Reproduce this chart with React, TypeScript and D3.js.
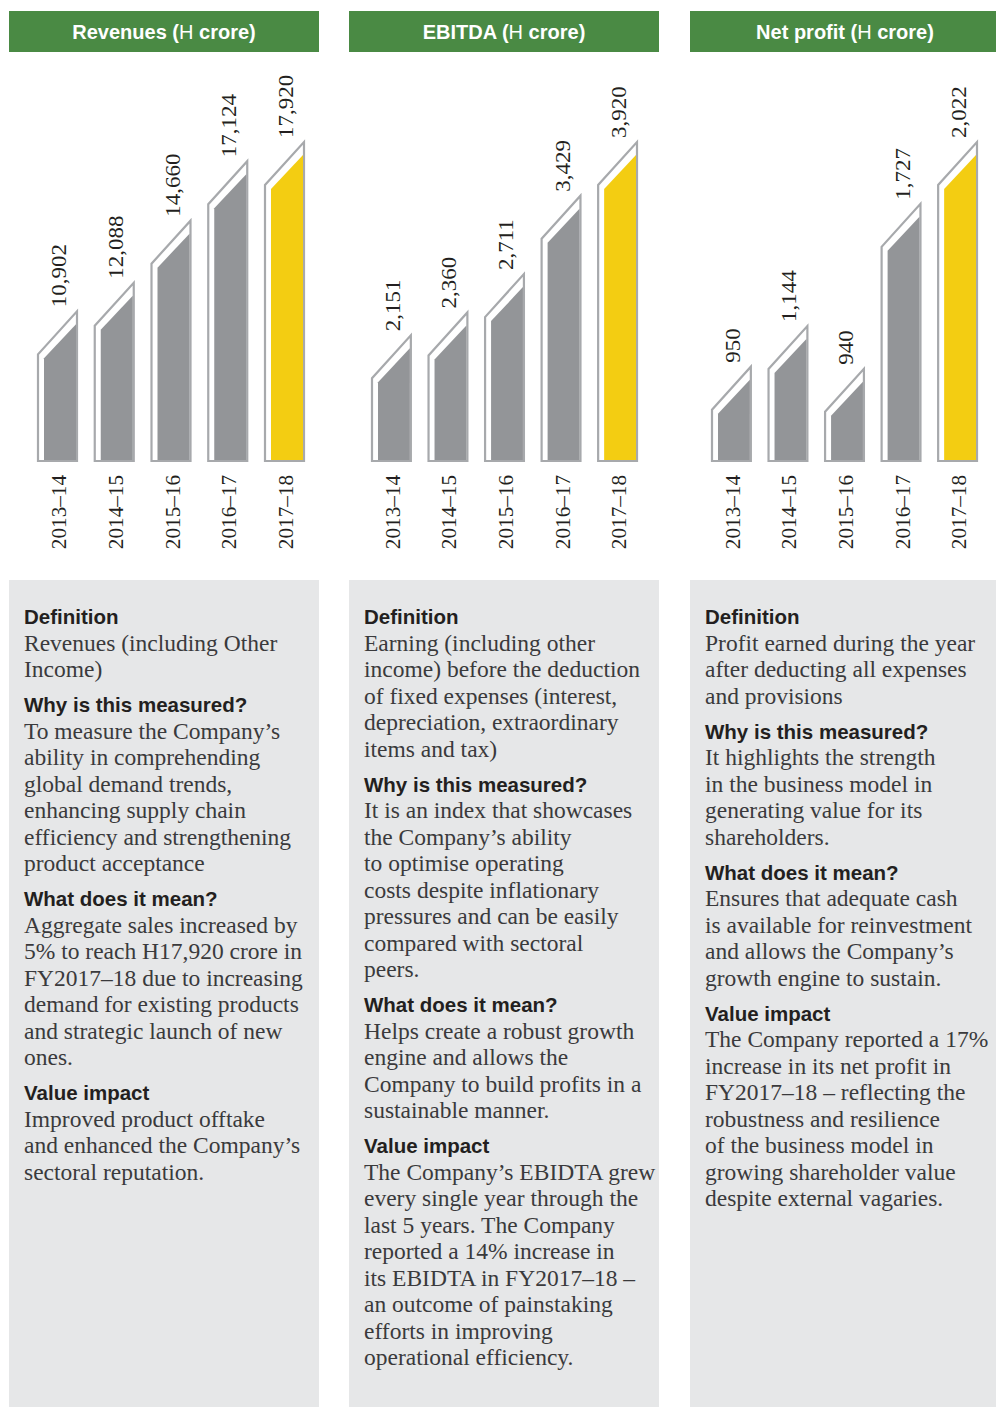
import React from "react";
import * as d3 from "d3";

const years = ["2013–14", "2014–15", "2015–16", "2016–17", "2017–18"];
const revenues = [10902, 12088, 14660, 17124, 17920];
const ebitda = [2151, 2360, 2711, 3429, 3920];
const netProfit = [950, 1144, 940, 1727, 2022];
// bottom of each chart's value scale (bars do not start at zero in the original)
const scaleFloors = [4700, 1000, 500];
const titles = ["Revenues", "EBITDA", "Net profit"];

type Block = { head: string; lines: string[] };

const panel1: Block[] = [
  { head: "Definition", lines: ["Revenues (including Other", "Income)"] },
  {
    head: "Why is this measured?",
    lines: [
      "To measure the Company’s",
      "ability in comprehending",
      "global demand trends,",
      "enhancing supply chain",
      "efficiency and strengthening",
      "product acceptance",
    ],
  },
  {
    head: "What does it mean?",
    lines: [
      "Aggregate sales increased by",
      "5% to reach H17,920 crore in",
      "FY2017–18 due to increasing",
      "demand for existing products",
      "and strategic launch of new",
      "ones.",
    ],
  },
  {
    head: "Value impact",
    lines: ["Improved product offtake", "and enhanced the Company’s", "sectoral reputation."],
  },
];

const panel2: Block[] = [
  {
    head: "Definition",
    lines: [
      "Earning (including other",
      "income) before the deduction",
      "of fixed expenses (interest,",
      "depreciation, extraordinary",
      "items and tax)",
    ],
  },
  {
    head: "Why is this measured?",
    lines: [
      "It is an index that showcases",
      "the Company’s ability",
      "to optimise operating",
      "costs despite inflationary",
      "pressures and can be easily",
      "compared with sectoral",
      "peers.",
    ],
  },
  {
    head: "What does it mean?",
    lines: [
      "Helps create a robust growth",
      "engine and allows the",
      "Company to build profits in a",
      "sustainable manner.",
    ],
  },
  {
    head: "Value impact",
    lines: [
      "The Company’s EBIDTA grew",
      "every single year through the",
      "last 5 years. The Company",
      "reported a 14% increase in",
      "its EBIDTA in FY2017–18 –",
      "an outcome of painstaking",
      "efforts in improving",
      "operational efficiency.",
    ],
  },
];

const panel3: Block[] = [
  {
    head: "Definition",
    lines: ["Profit earned during the year", "after deducting all expenses", "and provisions"],
  },
  {
    head: "Why is this measured?",
    lines: [
      "It highlights the strength",
      "in the business model in",
      "generating value for its",
      "shareholders.",
    ],
  },
  {
    head: "What does it mean?",
    lines: [
      "Ensures that adequate cash",
      "is available for reinvestment",
      "and allows the Company’s",
      "growth engine to sustain.",
    ],
  },
  {
    head: "Value impact",
    lines: [
      "The Company reported a 17%",
      "increase in its net profit in",
      "FY2017–18 – reflecting the",
      "robustness and resilience",
      "of the business model in",
      "growing shareholder value",
      "despite external vagaries.",
    ],
  },
];

const W = 996;
const H = 1407;
const panelX = [9, 349, 690];
const panelW = 310;
const chartX = [
  [38, 304],
  [372, 637],
  [712, 977],
];
const baseY = 461;
const topY = 142;
const slant = 43;

const GREEN = "#4a8a44";
const PANEL = "#e6e7e8";
const GREY = "#939598";
const OUTLINE = "#a7a9ac";
const YELLOW = "#f3cd12";
const SERIF = "'Liberation Serif', 'Times New Roman', serif";
const SANS = "'Liberation Sans', Arial, sans-serif";

const fmt = d3.format(",");

function BarChart({ idx, values }: { idx: number; values: number[] }) {
  const x = d3
    .scaleBand<string>()
    .domain(years)
    .range(chartX[idx] as [number, number])
    .paddingInner(0.3128)
    .paddingOuter(0);
  const y = d3
    .scaleLinear()
    .domain([scaleFloors[idx], d3.max(values) as number])
    .range([baseY, topY]);
  const bw = x.bandwidth();
  return (
    <g>
      {values.map((v, i) => {
        const L = x(years[i]) as number;
        const R = L + bw;
        const yR = y(v);
        const yL = yR + slant;
        const outer = d3.path();
        outer.moveTo(L, baseY);
        outer.lineTo(L, yL);
        outer.lineTo(R, yR);
        outer.lineTo(R, baseY);
        outer.closePath();
        const inner = d3.path();
        inner.moveTo(L + 6, baseY - 1);
        inner.lineTo(L + 6, yL + 4);
        inner.lineTo(R - 1, yR + 13);
        inner.lineTo(R - 1, baseY - 1);
        inner.closePath();
        const cx = L + bw / 2 + 1.5;
        const last = i === values.length - 1;
        return (
          <g key={i}>
            <path d={outer.toString()} fill="#fff" stroke={OUTLINE} strokeWidth={2.2} strokeLinejoin="miter" />
            <path d={inner.toString()} fill={last ? YELLOW : GREY} />
            <text
              transform={`translate(${cx},${yR - 4}) rotate(-90) scale(1.15,1)`}
              dy="0.35em"
              fontFamily={SERIF}
              fontSize={20}
              fill="#231f20"
            >
              {fmt(v)}
            </text>
            <text
              transform={`translate(${cx},${baseY + 14}) rotate(-90) scale(1.06,1)`}
              dy="0.35em"
              textAnchor="end"
              fontFamily={SERIF}
              fontSize={20}
              fill="#231f20"
            >
              {years[i]}
            </text>
          </g>
        );
      })}
    </g>
  );
}

function TextPanel({ idx, blocks }: { idx: number; blocks: Block[] }) {
  const x0 = panelX[idx] + 15;
  const out: React.ReactNode[] = [];
  let yy = 624;
  blocks.forEach((b, bi) => {
    if (bi > 0) yy += 35;
    out.push(
      <text key={`h${bi}`} x={x0} y={yy} fontFamily={SANS} fontWeight={700} fontSize={20.5} fill="#231f20">
        {b.head}
      </text>
    );
    b.lines.forEach((ln, li) => {
      yy += 26.5;
      out.push(
        <text
          key={`l${bi}-${li}`}
          transform={`translate(${x0},${yy}) scale(1.022,1)`}
          fontFamily={SERIF}
          fontSize={23}
          fill="#3a3a3c"
        >
          {ln}
        </text>
      );
    });
  });
  return (
    <g>
      <rect x={panelX[idx]} y={580} width={panelW} height={H - 580} fill={PANEL} />
      {out}
    </g>
  );
}

export default function App() {
  const series = [revenues, ebitda, netProfit];
  const panels = [panel1, panel2, panel3];
  return (
    <svg
      width={W}
      height={H}
      viewBox={`0 0 ${W} ${H}`}
      style={{ position: "absolute", left: 0, top: 0, background: "#fff" }}
    >
      {titles.map((t, i) => (
        <g key={t}>
          <rect x={panelX[i]} y={11} width={panelW} height={41} fill={GREEN} />
          <text
            x={panelX[i] + panelW / 2}
            y={38.5}
            textAnchor="middle"
            fontFamily={SANS}
            fontWeight={700}
            fontSize={20}
            fill="#fff"
          >
            {t} (<tspan fontWeight={400}>H</tspan> crore)
          </text>
        </g>
      ))}
      {series.map((s, i) => (
        <BarChart key={i} idx={i} values={s} />
      ))}
      {panels.map((p, i) => (
        <TextPanel key={i} idx={i} blocks={p} />
      ))}
    </svg>
  );
}
